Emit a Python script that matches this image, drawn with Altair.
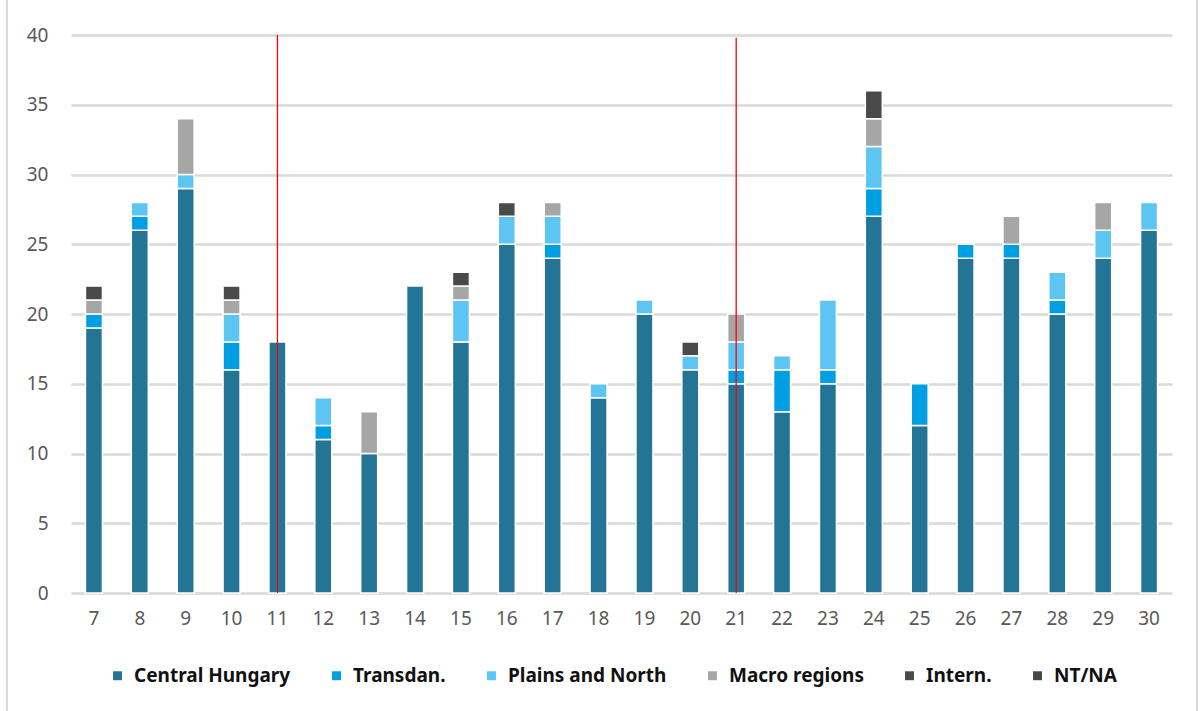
import altair as alt
import pandas as pd

categories = [str(i) for i in range(7, 31)]
series = ["Central Hungary", "Transdan.", "Plains and North", "Macro regions", "Intern.", "NT/NA"]
colors = ["#247496", "#009FE3", "#5DC5F2", "#A6A6A6", "#4A4A4A", "#474747"]

central_hungary = [19, 26, 29, 16, 18, 11, 10, 22, 18, 25, 24, 14, 20, 16, 15, 13, 15, 27, 12, 24, 24, 20, 24, 26]
transdan = [1, 1, 0, 2, 0, 1, 0, 0, 0, 0, 1, 0, 0, 0, 1, 3, 1, 2, 3, 1, 1, 1, 0, 0]
plains_north = [0, 1, 1, 2, 0, 2, 0, 0, 3, 2, 2, 1, 1, 1, 2, 1, 5, 3, 0, 0, 0, 2, 2, 2]
macro_regions = [1, 0, 4, 1, 0, 0, 3, 0, 1, 0, 1, 0, 0, 0, 2, 0, 0, 2, 0, 0, 2, 0, 2, 0]
intern = [1, 0, 0, 1, 0, 0, 0, 0, 1, 1, 0, 0, 0, 1, 0, 0, 0, 2, 0, 0, 0, 0, 0, 0]
nt_na = [0] * 24

marker_cats = ["11", "21"]
marker_tops = [40, 39.8]

values = [central_hungary, transdan, plains_north, macro_regions, intern, nt_na]
rows = []
for si, (name, vals) in enumerate(zip(series, values)):
    for c, v in zip(categories, vals):
        rows.append({"cat": c, "series": name, "order": si, "value": v})
df = pd.DataFrame(rows)
df_bars = df[df["value"] > 0]

markers = pd.DataFrame({"cat": marker_cats, "y0": [0, 0], "y1": marker_tops})

font = "Noto Sans"

x_enc = alt.X("cat:N", sort=categories, scale=alt.Scale(domain=categories, paddingInner=0.6, paddingOuter=0.3),
              axis=alt.Axis(title=None, labelAngle=0, domain=False, ticks=False, labelPadding=16,
                            labelFontSize=19, labelColor="#595959", labelFont=font, grid=False))

bars = alt.Chart(df_bars).mark_bar(size=17, stroke="white", strokeWidth=1.5).encode(
    x=x_enc,
    y=alt.Y("value:Q", stack="zero", scale=alt.Scale(domain=[0, 40], nice=False),
            axis=alt.Axis(title=None, values=list(range(0, 41, 5)), domain=False, ticks=False,
                          labelPadding=23, labelFontSize=19, labelColor="#595959", labelFont=font,
                          gridColor="#D9D9D9", gridWidth=2.5)),
    color=alt.Color("series:N", sort=series, scale=alt.Scale(domain=series, range=colors),
                    legend=alt.Legend(title=None, orient="none", direction="horizontal",
                                      legendX=37, legendY=631, symbolType="square", symbolSize=80,
                                      symbolStrokeWidth=0, labelFontSize=19, labelFontWeight="bold",
                                      labelColor="#111111", labelFont=font, columnPadding=36,
                                      labelOffset=7, labelLimit=300)),
    order=alt.Order("order:Q"),
)

rules = alt.Chart(markers).mark_rule(color="#FF0000", strokeWidth=1.3).encode(
    x=alt.X("cat:N", sort=categories),
    y="y0:Q",
    y2="y1:Q",
)

border = alt.Chart(pd.DataFrame({"a": [0]})).mark_rule(color="#D9D9D9", strokeWidth=2).encode(
    x=alt.value(-64), y=alt.value(-35), y2=alt.value(676)
)
border_r = alt.Chart(pd.DataFrame({"a": [0]})).mark_rule(color="#D9D9D9", strokeWidth=2).encode(
    x=alt.value(1126), y=alt.value(-35), y2=alt.value(676)
)

chart = alt.layer(bars, rules, border, border_r).properties(
    width=1101, height=558,
    autosize=alt.AutoSizeParams(type="none"),
    padding={"left": 71, "top": 35, "right": 28, "bottom": 118},
    background="white",
).configure_view(stroke=None)

chart.save("out.html", embed_options={"renderer": "svg", "actions": False})
